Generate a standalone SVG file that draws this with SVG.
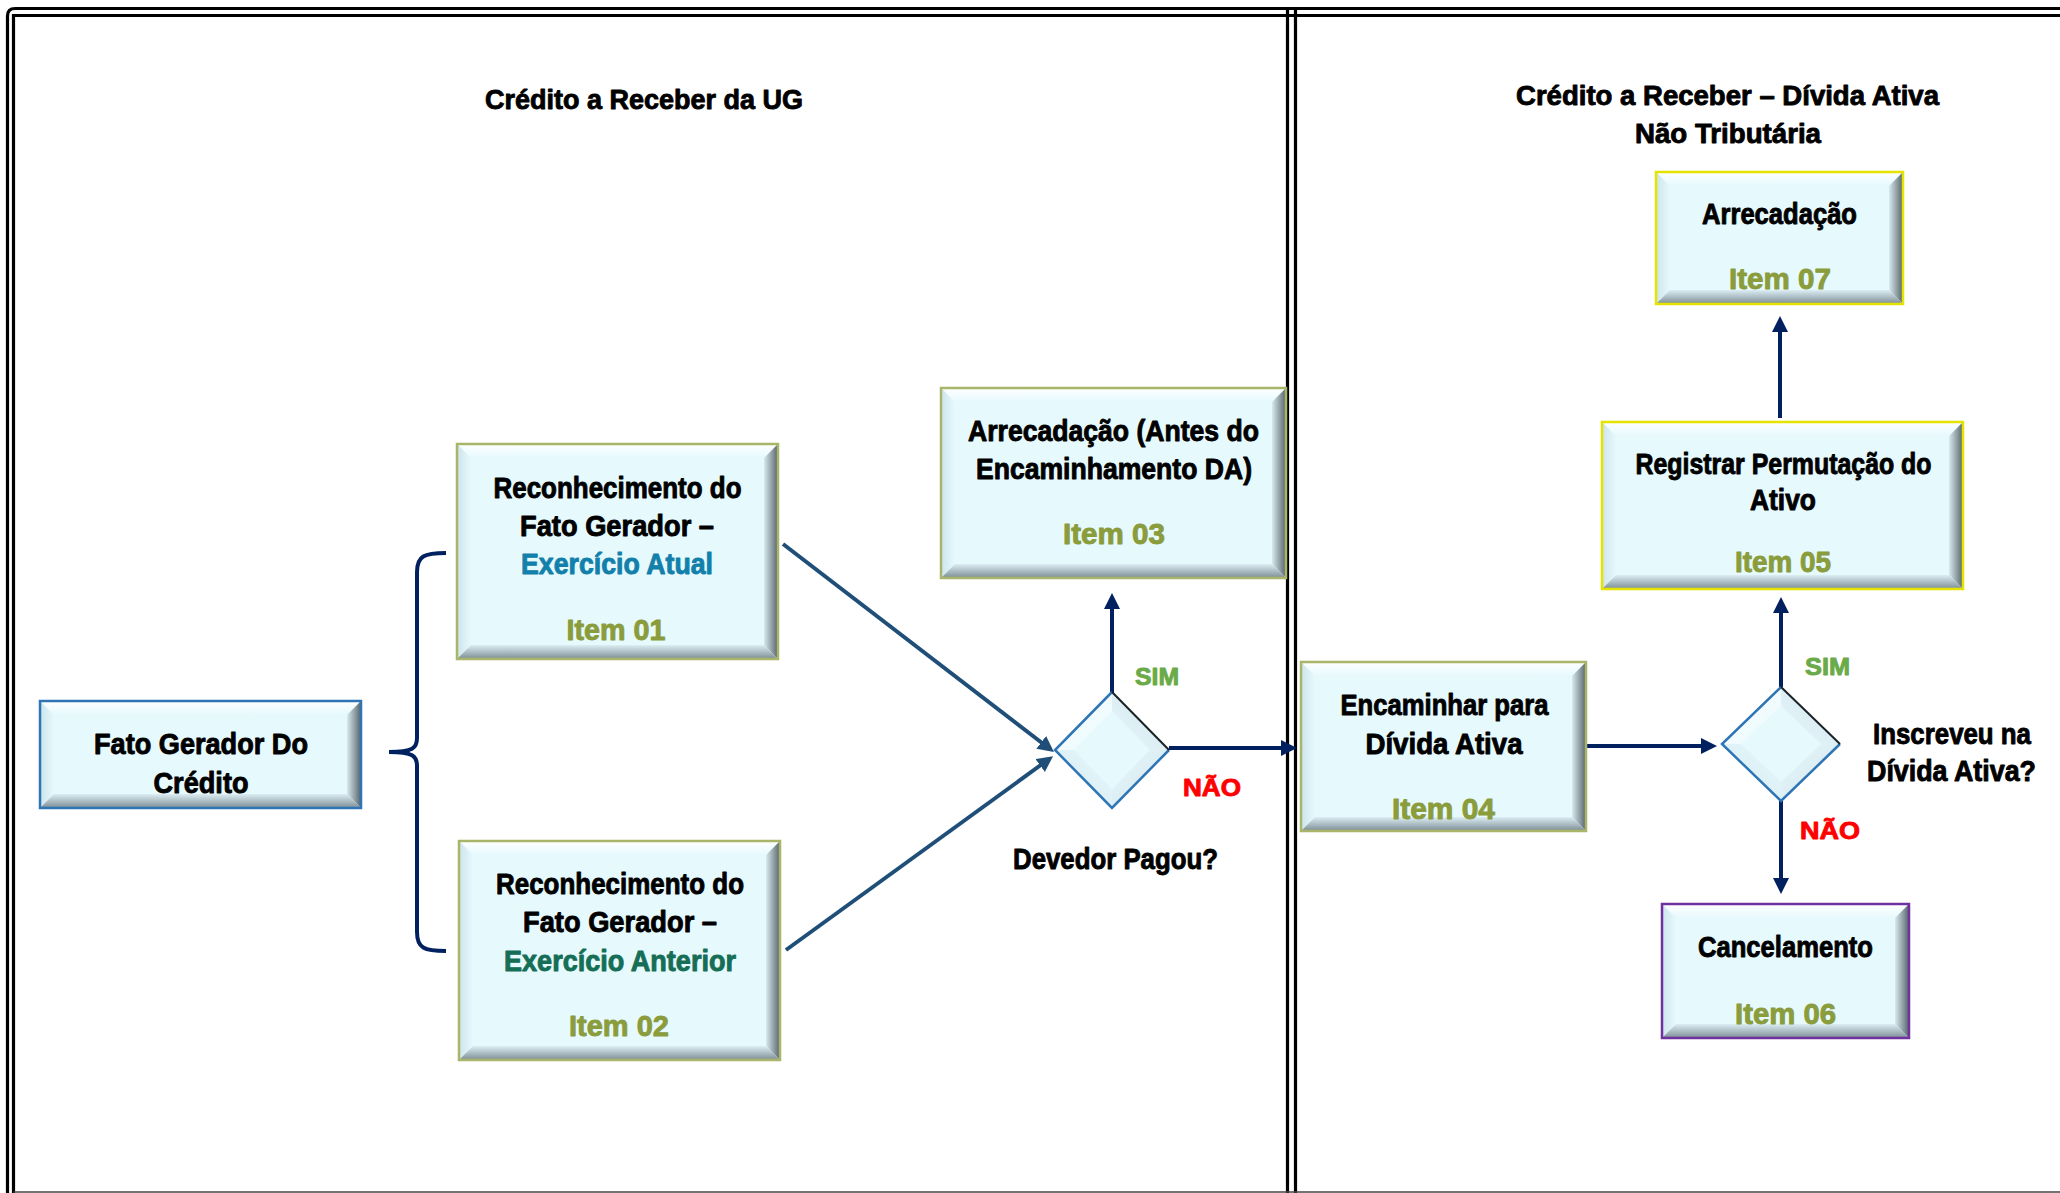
<svg xmlns="http://www.w3.org/2000/svg" width="2060" height="1193" viewBox="0 0 2060 1193">
<defs>
<style>
.face{fill:#e6f9fd}
.bt{fill:url(#gT)}
.bl{fill:url(#gL)}
.br{fill:url(#gR)}
.bb{fill:url(#gB)}
.bd{fill:none;stroke-width:2.5}
.olive{stroke:#a9b568}
.blue{stroke:#2e75b6}
.yel{stroke:#e4e400}
.pur{stroke:#7030a0}
text{font-family:"Liberation Sans",Arial,sans-serif;font-weight:bold;text-anchor:middle;stroke-width:0.9;stroke-linejoin:round}
.t{font-size:29px;fill:#000;stroke:#000}
.it{font-size:29px;fill:#8a9c3c;stroke:#8a9c3c}
.ttl{font-size:28px;fill:#000;stroke:#000}
.sim{font-size:24px;fill:#6aaa48;stroke:#6aaa48}
.nao{font-size:24px;fill:#ff0000;stroke:#ff0000}
.ea{fill:#1280aa;stroke:#1280aa}
.ean{fill:#156e55;stroke:#156e55}
.con{fill:none;stroke:#002060;stroke-width:4}
.dia{fill:none;stroke:#1f4e79;stroke-width:4}
.frame{fill:none;stroke:#000;stroke-width:3.2}
</style>
<linearGradient id="gT" x1="0" y1="0" x2="0" y2="1"><stop offset="0" stop-color="#ffffff"/><stop offset="1" stop-color="#e6f9fd"/></linearGradient>
<linearGradient id="gL" x1="0" y1="0" x2="1" y2="0"><stop offset="0" stop-color="#cde4ec"/><stop offset="1" stop-color="#e6f9fd"/></linearGradient>
<linearGradient id="gR" x1="0" y1="0" x2="1" y2="0"><stop offset="0" stop-color="#d8eaef"/><stop offset="1" stop-color="#56646a"/></linearGradient>
<linearGradient id="gB" x1="0" y1="0" x2="0" y2="1"><stop offset="0" stop-color="#dceef3"/><stop offset="1" stop-color="#7d8d95"/></linearGradient>
<linearGradient id="dTL" x1="0" y1="0" x2="1" y2="1"><stop offset="0" stop-color="#ffffff"/><stop offset="1" stop-color="#e6f9fd"/></linearGradient>
<linearGradient id="dTR" x1="1" y1="0" x2="0" y2="1"><stop offset="0" stop-color="#1a2226"/><stop offset="0.3" stop-color="#7a8a90"/><stop offset="0.5" stop-color="#dceef3"/><stop offset="1" stop-color="#e6f9fd"/></linearGradient>
<linearGradient id="dBR" x1="1" y1="1" x2="0" y2="0"><stop offset="0" stop-color="#8a9aa2"/><stop offset="0.5" stop-color="#dceef3"/><stop offset="1" stop-color="#e6f9fd"/></linearGradient>
<linearGradient id="dBL" x1="0" y1="1" x2="1" y2="0"><stop offset="0" stop-color="#d4e8ef"/><stop offset="1" stop-color="#e6f9fd"/></linearGradient>
<marker id="ah" markerUnits="userSpaceOnUse" markerWidth="16" markerHeight="16" viewBox="0 0 16 16" refX="6" refY="8" orient="auto"><path d="M0,0 L16,8 L0,16 z" fill="#002060"/></marker>
<marker id="ah2" markerUnits="userSpaceOnUse" markerWidth="16" markerHeight="16" viewBox="0 0 16 16" refX="6" refY="8" orient="auto"><path d="M0,0 L16,8 L0,16 z" fill="#1f4e79"/></marker>
</defs>
<rect width="2060" height="1193" fill="#ffffff"/>
<g id="frame">
<path class="frame" d="M7.5,1193 V16 Q7.5,8.5 15,8.5 H2060"/>
<path class="frame" d="M13.5,1193 V15.5 H2060"/>
<path class="frame" d="M1287.5,8.5 V1193 M1295.5,8.5 V1193"/>
<path d="M13.5,1192 H2060" stroke="#444" stroke-width="1.5" fill="none"/>
</g>
<g id="titles">
<text class="ttl" x="644" y="109" textLength="318" lengthAdjust="spacingAndGlyphs">Crédito a Receber da UG</text>
<text class="ttl" x="1727.5" y="105" textLength="423" lengthAdjust="spacingAndGlyphs">Crédito a Receber – Dívida Ativa</text>
<text class="ttl" x="1728" y="143" textLength="186" lengthAdjust="spacingAndGlyphs">Não Tributária</text>
</g>
<g id="connectors">
<path class="con" d="M446,553 C424,553 417,556 417,572 L417,738 C417,748 413,752 389,752 C413,752 417,756 417,766 L417,932 C417,948 424,951 446,951"/>
<path class="dia" d="M783,544 L1046,746" marker-end="url(#ah2)"/>
<path class="dia" d="M786,950 L1045,762" marker-end="url(#ah2)"/>
<path class="con" d="M1112,693 V603" marker-end="url(#ah)"/>
<path class="con" d="M1169,748 H1287" marker-end="url(#ah)"/>
<path class="con" d="M1577,746 H1707" marker-end="url(#ah)"/>
<path class="con" d="M1781,687 V607" marker-end="url(#ah)"/>
<path class="con" d="M1781,801 V884" marker-end="url(#ah)"/>
<path class="con" d="M1780,418 V326" marker-end="url(#ah)"/>
</g>
<g id="fato-gerador">
<rect class="face" x="40" y="701" width="321" height="107"/>
<polygon class="bt" points="40,701 361,701 347,715 54,715"/>
<polygon class="bl" points="40,701 54,715 54,794 40,808"/>
<polygon class="br" points="361,701 361,808 347,794 347,715"/>
<polygon class="bb" points="40,808 361,808 347,794 54,794"/>
<rect class="bd blue" x="40" y="701" width="321" height="107"/>
<text class="t" x="201" y="754" textLength="214" lengthAdjust="spacingAndGlyphs">Fato Gerador Do</text>
<text class="t" x="201" y="793" textLength="95" lengthAdjust="spacingAndGlyphs">Crédito</text>
</g>
<g id="item01">
<rect class="face" x="457" y="444" width="321" height="215"/>
<polygon class="bt" points="457,444 778,444 764,458 471,458"/>
<polygon class="bl" points="457,444 471,458 471,645 457,659"/>
<polygon class="br" points="778,444 778,659 764,645 764,458"/>
<polygon class="bb" points="457,659 778,659 764,645 471,645"/>
<rect class="bd olive" x="457" y="444" width="321" height="215"/>
<text class="t" x="617.5" y="497.5" textLength="248" lengthAdjust="spacingAndGlyphs">Reconhecimento do</text>
<text class="t" x="617" y="536" textLength="194" lengthAdjust="spacingAndGlyphs">Fato Gerador –</text>
<text class="t ea" x="617" y="574" textLength="192" lengthAdjust="spacingAndGlyphs">Exercício Atual</text>
<text class="it" x="616" y="640" textLength="99" lengthAdjust="spacingAndGlyphs">Item 01</text>
</g>
<g id="item02">
<rect class="face" x="459" y="841" width="321" height="219"/>
<polygon class="bt" points="459,841 780,841 766,855 473,855"/>
<polygon class="bl" points="459,841 473,855 473,1046 459,1060"/>
<polygon class="br" points="780,841 780,1060 766,1046 766,855"/>
<polygon class="bb" points="459,1060 780,1060 766,1046 473,1046"/>
<rect class="bd olive" x="459" y="841" width="321" height="219"/>
<text class="t" x="620" y="894" textLength="248" lengthAdjust="spacingAndGlyphs">Reconhecimento do</text>
<text class="t" x="620" y="932" textLength="194" lengthAdjust="spacingAndGlyphs">Fato Gerador –</text>
<text class="t ean" x="620" y="970.5" textLength="232" lengthAdjust="spacingAndGlyphs">Exercício Anterior</text>
<text class="it" x="619" y="1036" textLength="100" lengthAdjust="spacingAndGlyphs">Item 02</text>
</g>
<g id="item03">
<rect class="face" x="941" y="388" width="345" height="190"/>
<polygon class="bt" points="941,388 1286,388 1272,402 955,402"/>
<polygon class="bl" points="941,388 955,402 955,564 941,578"/>
<polygon class="br" points="1286,388 1286,578 1272,564 1272,402"/>
<polygon class="bb" points="941,578 1286,578 1272,564 955,564"/>
<rect class="bd olive" x="941" y="388" width="345" height="190"/>
<text class="t" x="1113.5" y="441" textLength="291" lengthAdjust="spacingAndGlyphs">Arrecadação (Antes do</text>
<text class="t" x="1114" y="479" textLength="276" lengthAdjust="spacingAndGlyphs">Encaminhamento DA)</text>
<text class="it" x="1114" y="544" textLength="102" lengthAdjust="spacingAndGlyphs">Item 03</text>
</g>
<g id="devedor-pagou">
<polygon class="face" points="1112,692 1169,750 1112,808 1055,750"/>
<polygon fill="url(#dTL)" points="1055,750 1112,692 1112,711 1074,750"/>
<polygon fill="url(#dTR)" points="1112,692 1169,750 1150,750 1112,711"/>
<polygon fill="url(#dBR)" points="1169,750 1112,808 1112,789 1150,750"/>
<polygon fill="url(#dBL)" points="1112,808 1055,750 1074,750 1112,789"/>
<polyline fill="none" stroke="#2e75b6" stroke-width="2.5" points="1112,692 1055,750 1112,808 1169,750"/>
<polyline fill="none" stroke="#1a2226" stroke-width="2" points="1112,692 1169,750"/>
<text class="sim" x="1157" y="685" textLength="44" lengthAdjust="spacingAndGlyphs">SIM</text>
<text class="nao" x="1212" y="796" textLength="58" lengthAdjust="spacingAndGlyphs">NÃO</text>
<text class="t" x="1115.5" y="869" textLength="205" lengthAdjust="spacingAndGlyphs">Devedor Pagou?</text>
</g>
<g id="item04">
<rect class="face" x="1301" y="662" width="285" height="169"/>
<polygon class="bt" points="1301,662 1586,662 1572,676 1315,676"/>
<polygon class="bl" points="1301,662 1315,676 1315,817 1301,831"/>
<polygon class="br" points="1586,662 1586,831 1572,817 1572,676"/>
<polygon class="bb" points="1301,831 1586,831 1572,817 1315,817"/>
<rect class="bd olive" x="1301" y="662" width="285" height="169"/>
<text class="t" x="1444.5" y="715" textLength="208" lengthAdjust="spacingAndGlyphs">Encaminhar para</text>
<text class="t" x="1444" y="753.5" textLength="157" lengthAdjust="spacingAndGlyphs">Dívida Ativa</text>
<text class="it" x="1443.5" y="819" textLength="103" lengthAdjust="spacingAndGlyphs">Item 04</text>
</g>
<g id="inscreveu">
<polygon class="face" points="1781,687 1840,744 1781,801 1722,744"/>
<polygon fill="url(#dTL)" points="1722,744 1781,687 1781,706 1741,744"/>
<polygon fill="url(#dTR)" points="1781,687 1840,744 1821,744 1781,706"/>
<polygon fill="url(#dBR)" points="1840,744 1781,801 1781,782 1821,744"/>
<polygon fill="url(#dBL)" points="1781,801 1722,744 1741,744 1781,782"/>
<polyline fill="none" stroke="#2e75b6" stroke-width="2.5" points="1781,687 1722,744 1781,801 1840,744"/>
<polyline fill="none" stroke="#1a2226" stroke-width="2" points="1781,687 1840,744"/>
<text class="sim" x="1827.5" y="675" textLength="45" lengthAdjust="spacingAndGlyphs">SIM</text>
<text class="nao" x="1830" y="838.5" textLength="60" lengthAdjust="spacingAndGlyphs">NÃO</text>
<text class="t" x="1952" y="743.5" textLength="158" lengthAdjust="spacingAndGlyphs">Inscreveu na</text>
<text class="t" x="1951.5" y="781" textLength="169" lengthAdjust="spacingAndGlyphs">Dívida Ativa?</text>
</g>
<g id="item05">
<rect class="face" x="1602" y="422" width="361" height="167"/>
<polygon class="bt" points="1602,422 1963,422 1949,436 1616,436"/>
<polygon class="bl" points="1602,422 1616,436 1616,575 1602,589"/>
<polygon class="br" points="1963,422 1963,589 1949,575 1949,436"/>
<polygon class="bb" points="1602,589 1963,589 1949,575 1616,575"/>
<rect class="bd yel" x="1602" y="422" width="361" height="167"/>
<text class="t" x="1783.5" y="474" textLength="296" lengthAdjust="spacingAndGlyphs">Registrar Permutação do</text>
<text class="t" x="1783" y="510" textLength="66" lengthAdjust="spacingAndGlyphs">Ativo</text>
<text class="it" x="1783" y="572" textLength="96" lengthAdjust="spacingAndGlyphs">Item 05</text>
</g>
<g id="item06">
<rect class="face" x="1662" y="904" width="247" height="134"/>
<polygon class="bt" points="1662,904 1909,904 1895,918 1676,918"/>
<polygon class="bl" points="1662,904 1676,918 1676,1024 1662,1038"/>
<polygon class="br" points="1909,904 1909,1038 1895,1024 1895,918"/>
<polygon class="bb" points="1662,1038 1909,1038 1895,1024 1676,1024"/>
<rect class="bd pur" x="1662" y="904" width="247" height="134"/>
<text class="t" x="1785.5" y="957" textLength="175" lengthAdjust="spacingAndGlyphs">Cancelamento</text>
<text class="it" x="1785.5" y="1023.5" textLength="101" lengthAdjust="spacingAndGlyphs">Item 06</text>
</g>
<g id="item07">
<rect class="face" x="1656" y="172" width="247" height="132"/>
<polygon class="bt" points="1656,172 1903,172 1889,186 1670,186"/>
<polygon class="bl" points="1656,172 1670,186 1670,290 1656,304"/>
<polygon class="br" points="1903,172 1903,304 1889,290 1889,186"/>
<polygon class="bb" points="1656,304 1903,304 1889,290 1670,290"/>
<rect class="bd yel" x="1656" y="172" width="247" height="132"/>
<text class="t" x="1779.5" y="224" textLength="155" lengthAdjust="spacingAndGlyphs">Arrecadação</text>
<text class="it" x="1780" y="289" textLength="102" lengthAdjust="spacingAndGlyphs">Item 07</text>
</g>
</svg>
